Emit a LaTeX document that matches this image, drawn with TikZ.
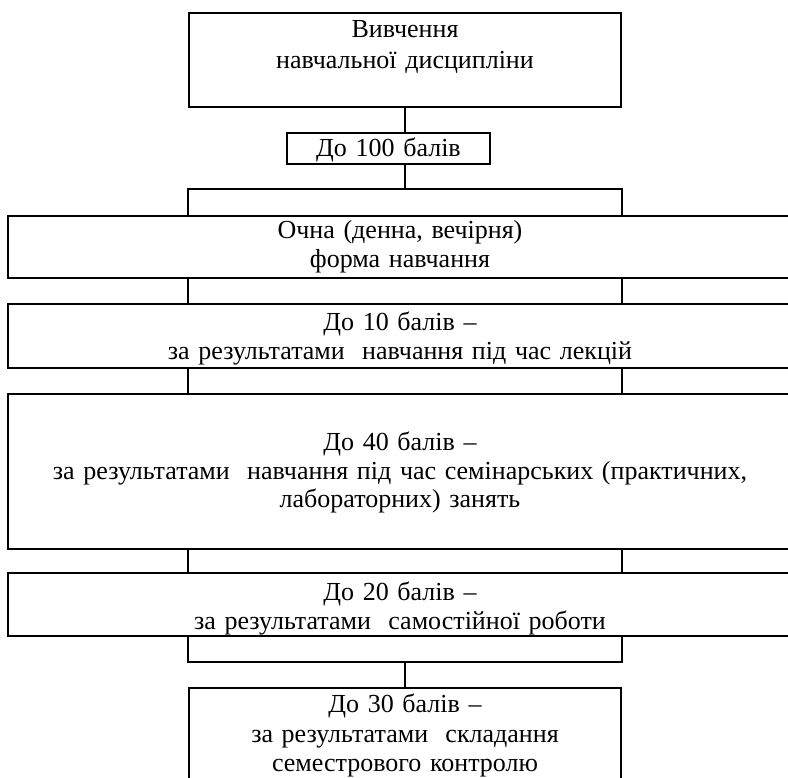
\documentclass[tikz,border=0pt]{standalone}
\usepackage{fontspec}
\setmainfont{Liberation Serif}

\begin{document}
\begin{tikzpicture}[x=1pt,y=-1pt,
    block/.style={draw,line width=1.8pt,inner sep=0pt,anchor=north,align=center,
      font=\fontsize{26}{29}\selectfont},
    link/.style={line width=1.8pt}]
    \useasboundingbox (0,0) rectangle (788,778);
    \clip (0,0) rectangle (788,778);
    \node[block,text width=432pt,text height=25pt,text depth=69pt,
      font=\fontsize{26}{31}\selectfont] (study) at (405,12)
      {Вивчення\\навчальної дисципліни};
    \node[block,text width=203pt,text height=24pt,text depth=7pt] (total) at (388.5,132)
      {До 100 балів};
    \node[block,text width=784pt,text height=23pt,text depth=39pt] (form) at (400,215)
      {Очна (денна, вечірня)\\форма навчання};
    \node[block,text width=784pt,text height=27pt,text depth=37pt] (lect) at (400,303)
      {До 10 балів –\\за результатами\ \ навчання під час лекцій};
    \node[block,text width=784pt,text height=57pt,text depth=98pt,
      font=\fontsize{26}{28.5}\selectfont] (sem) at (400,393)
      {До 40 балів –\\за результатами\ \ навчання під час семінарських (практичних,\\лабораторних) занять};
    \node[block,text width=784pt,text height=28pt,text depth=35pt] (self) at (400,572)
      {До 20 балів –\\за результатами\ \ самостійної роботи};
    \node[block,text width=432pt,text height=25pt,text depth=90pt,
      font=\fontsize{26}{29.5}\selectfont] (exam) at (405,687)
      {До 30 балів –\\за результатами\ \ складання\\семестрового контролю};
    \coordinate (splitT) at (405,189);
    \coordinate (splitB) at (405,662);
    \draw[link] (study.south) -- (study.south |- total.north);
    \draw[link] (study.south |- total.south) -- (splitT);
    \draw[link] (study.west |- form.north) -- (study.west |- splitT)
      -- (study.east |- splitT) -- (study.east |- form.north);
    \foreach \a/\b in {form/lect,lect/sem,sem/self}
      \foreach \s in {west,east}
        \draw[link] (study.\s |- \a.south) -- (study.\s |- \b.north);
    \draw[link] (study.west |- self.south) -- (study.west |- splitB)
      -- (study.east |- splitB) -- (study.east |- self.south);
    \draw[link] (splitB) -- (exam.north);
  \end{tikzpicture}
\end{document}
